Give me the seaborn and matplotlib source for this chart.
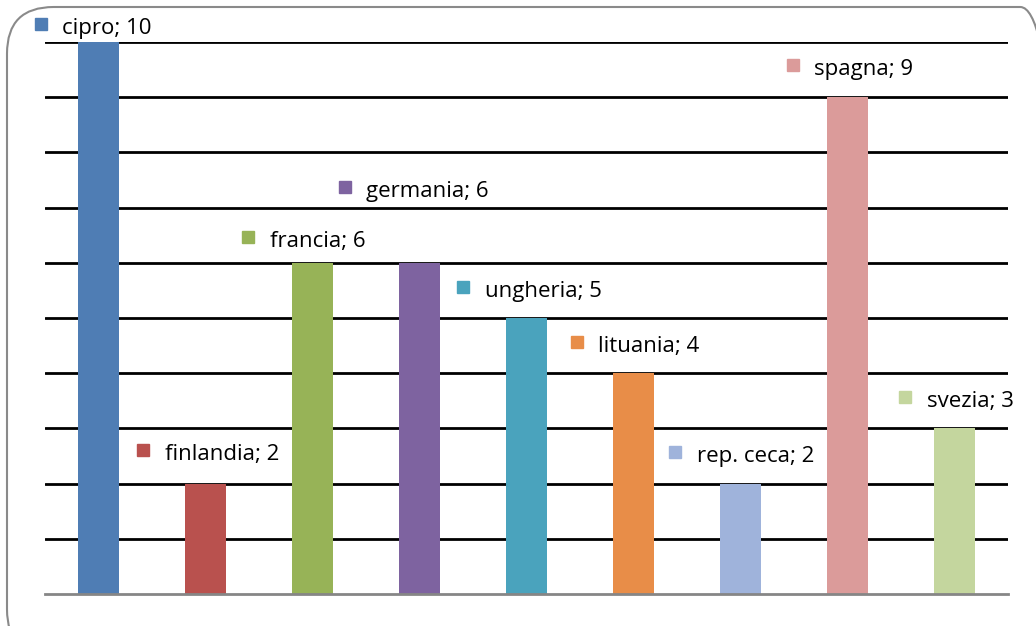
import matplotlib
matplotlib.use('Agg')
import matplotlib.pyplot as plt
import seaborn as sns
import pandas as pd
from matplotlib.patches import FancyBboxPatch

# chart data
countries = ['cipro', 'finlandia', 'francia', 'germania', 'ungheria',
             'lituania', 'rep. ceca', 'spagna', 'svezia']
values = [10, 2, 6, 6, 5, 4, 2, 9, 3]
colors = ['#4F7DB4', '#B9514E', '#97B357', '#7E63A0', '#4AA3BD',
          '#E88D48', '#9FB3DB', '#DB9B9A', '#C4D69E']

# label placement (text left edge offset from bar centre, label height)
label_dx = [-0.34, -0.38, -0.40, -0.50, -0.39, -0.33, -0.41, -0.31, -0.26]
label_y = [10.27, 2.55, 6.41, 7.32, 5.51, 4.51, 2.52, 9.53, 3.51]

df = pd.DataFrame({'country': countries, 'value': values})

sns.set_style('white')
plt.rcParams['font.family'] = ['Open Sans', 'DejaVu Sans']

fig = plt.figure(figsize=(10.36, 6.26), dpi=100)
ax = fig.add_axes([45 / 1036, 32 / 626, 963 / 1036, 552 / 626])

sns.barplot(data=df, x='country', y='value', hue='country', palette=colors,
            width=0.39, legend=False, ax=ax, saturation=1, zorder=3,
            linewidth=0)

ax.set_xlim(-0.5, 8.5)
ax.set_ylim(0, 10)
ax.set_yticks(range(1, 11))
ax.yaxis.grid(True, color='black', linewidth=2)
ax.set_axisbelow(True)
ax.set_xticks([])
ax.set_yticklabels([])
ax.tick_params(left=False, bottom=False)
ax.set_xlabel('')
ax.set_ylabel('')
for side in ['top', 'right', 'left']:
    ax.spines[side].set_visible(False)
ax.spines['bottom'].set_color('#868686')
ax.spines['bottom'].set_linewidth(2)
ax.spines['bottom'].set_zorder(4)

for i, (name, val) in enumerate(zip(countries, values)):
    ax.text(i + label_dx[i], label_y[i] - 0.03, f'{name}; {val}', ha='left',
            va='center', fontsize=16, color='black', zorder=5, clip_on=False)
    ax.plot([i + label_dx[i] - 0.2], [label_y[i] + 0.05], marker='s',
            markersize=9, color=colors[i], clip_on=False, zorder=5)

# rounded chart border
border = FancyBboxPatch((7 / 1036, -30 / 626), 1060 / 1036, 649 / 626,
                        boxstyle='round,pad=0,rounding_size=0.045',
                        transform=fig.transFigure, fill=False,
                        edgecolor='#8A8A8A', linewidth=1.5,
                        mutation_aspect=1036 / 626)
fig.patches.append(border)

fig.savefig('out.png', dpi=100)
